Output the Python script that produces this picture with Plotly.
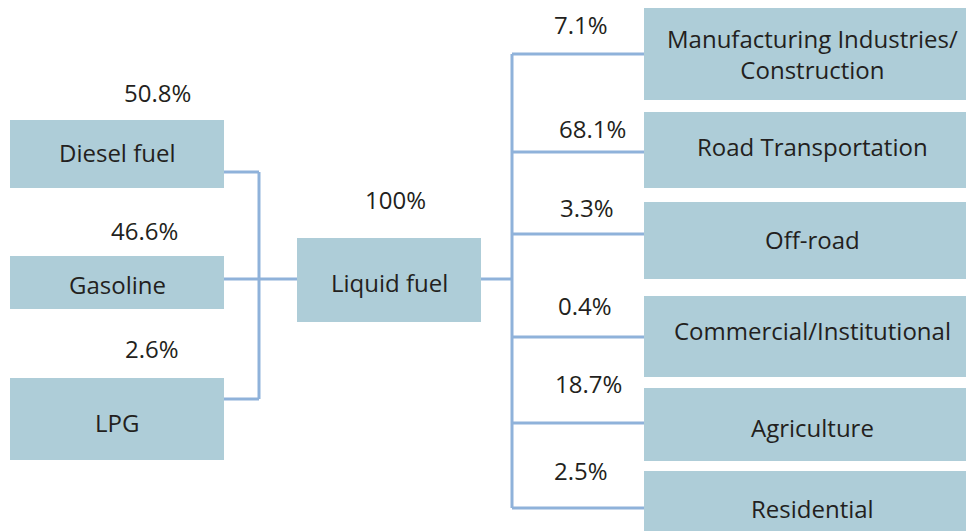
import plotly.graph_objects as go

# ---- data ----
source_names = ["Diesel fuel", "Gasoline", "LPG"]
source_shares = [50.8, 46.6, 2.6]
hub_name = "Liquid fuel"
hub_share = 100
target_names = ["Manufacturing Industries/<br>Construction", "Road Transportation", "Off-road",
                "Commercial/Institutional", "Agriculture", "Residential"]
target_shares = [7.1, 68.1, 3.3, 0.4, 18.7, 2.5]

# ---- layout (pixel geometry) ----
W, H = 974, 531
PAGE_OFF = 8  # default body margin of the html page
BOX = "#aecdd8"
LINE = "#8fb2da"
TXT = "#231f20"
FONT = "Open Sans"
FS = 24

src_x = (10, 224)
src_y = [(120, 188), (256, 309), (378, 460)]
src_conn = [172, 279, 399]
src_lbl = [(157, 92), (144, 230), (152, 348)]
src_txt_y = [152, 284, 422]
left_bus_x = 259

hub_x = (297, 481)
hub_y = (238, 322)
hub_conn = 279
hub_lbl = (395, 199)

right_bus_x = 512
tgt_x = (644, 972)
tgt_y = [(8, 100), (112, 188), (202, 279), (296, 377), (388, 461), (471, 531)]
tgt_conn = [54, 152, 234, 337, 423, 508]
tgt_lbl = [(581, 24), (592, 128), (587, 207), (585, 305), (588, 383), (581, 470)]
tgt_txt_y = [54, 146, 239, 330, 427, 508]

shapes = []
annotations = []

def rect(x0, x1, y0, y1):
    shapes.append(dict(type="rect", xref="x", yref="y", x0=x0, x1=x1, y0=y0, y1=y1,
                       fillcolor=BOX, line=dict(width=0), layer="above"))

def seg(x0, y0, x1, y1):
    shapes.append(dict(type="line", xref="x", yref="y", x0=x0, y0=y0, x1=x1, y1=y1,
                       line=dict(color=LINE, width=3), layer="below"))

def text(x, y, s, size=FS):
    annotations.append(dict(x=x, y=y, xref="x", yref="y", text=s, showarrow=False,
                            font=dict(family=FONT, size=size, color=TXT),
                            xanchor="center", yanchor="middle"))

# connectors
for yc in src_conn:
    seg(src_x[1] - 2, yc, left_bus_x, yc)
seg(left_bus_x, src_conn[0], left_bus_x, src_conn[-1])
seg(left_bus_x, hub_conn, hub_x[0], hub_conn)
seg(hub_x[1], hub_conn, right_bus_x, hub_conn)
seg(right_bus_x, tgt_conn[0], right_bus_x, tgt_conn[-1])
for yc in tgt_conn:
    seg(right_bus_x, yc, tgt_x[0], yc)

# boxes
for (y0, y1) in src_y:
    rect(src_x[0], src_x[1], y0, y1)
rect(hub_x[0], hub_x[1], hub_y[0], hub_y[1])
for (y0, y1) in tgt_y:
    rect(tgt_x[0], tgt_x[1], y0, y1)

# text
for name, ty in zip(source_names, src_txt_y):
    text((src_x[0] + src_x[1]) / 2, ty, name)
for share, (lx, ly) in zip(source_shares, src_lbl):
    text(lx, ly, f"{share:.1f}%")
text((hub_x[0] + hub_x[1]) / 2, (hub_y[0] + hub_y[1]) / 2 + 2, hub_name)
text(hub_lbl[0], hub_lbl[1], f"{hub_share}%")
for name, ty in zip(target_names, tgt_txt_y):
    text((tgt_x[0] + tgt_x[1]) / 2 + 4, ty, name)
for share, (lx, ly) in zip(target_shares, tgt_lbl):
    text(lx, ly, f"{share:.1f}%")

fig = go.Figure()
fig.update_layout(
    width=W, height=H,
    margin=dict(l=0, r=0, t=0, b=0),
    paper_bgcolor="white", plot_bgcolor="white",
    xaxis=dict(range=[PAGE_OFF, W + PAGE_OFF], visible=False, fixedrange=True),
    yaxis=dict(range=[H + PAGE_OFF, PAGE_OFF], visible=False, fixedrange=True),
    shapes=shapes, annotations=annotations, showlegend=False,
)
fig.write_html("out.html")
